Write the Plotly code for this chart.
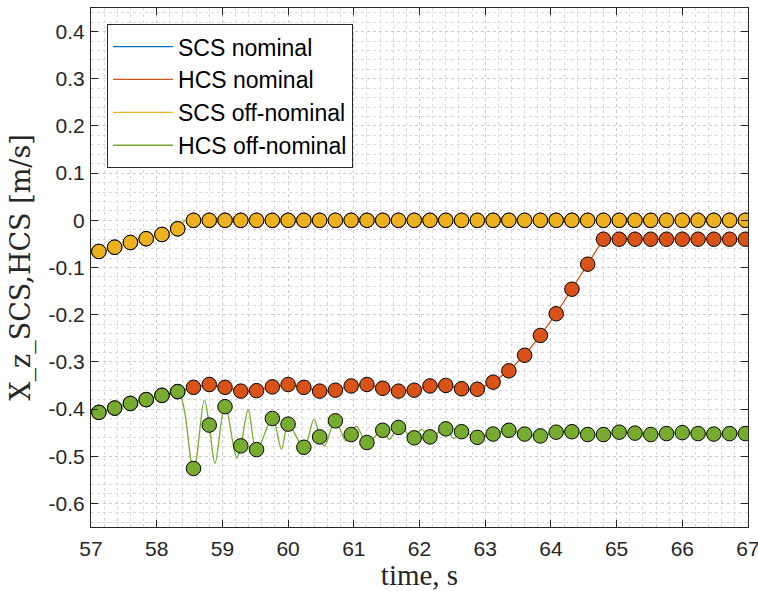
import plotly.graph_objects as go

# ---------------- data ----------------
t_markers = [57.12, 57.36, 57.60, 57.84, 58.08, 58.32, 58.56, 58.80, 59.04, 59.28,
             59.52, 59.76, 60.00, 60.24, 60.48, 60.72, 60.96, 61.20, 61.44, 61.68,
             61.92, 62.16, 62.40, 62.64, 62.88, 63.12, 63.36, 63.60, 63.84, 64.08,
             64.32, 64.56, 64.80, 65.04, 65.28, 65.52, 65.76, 66.00, 66.24, 66.48,
             66.72, 66.96]

scs_nominal = [-0.066, -0.057, -0.047, -0.039, -0.030, -0.018, 0, 0, 0, 0,
               0, 0, 0, 0, 0, 0, 0, 0, 0, 0,
               0, 0, 0, 0, 0, 0, 0, 0, 0, 0,
               0, 0, 0, 0, 0, 0, 0, 0, 0, 0,
               0, 0]
scs_offnominal = list(scs_nominal)

# line support for SCS curves (reaches zero slightly before the 7th marker)
scs_line_t = [57.12, 57.36, 57.60, 57.84, 58.08, 58.32, 58.43, 67.0]
scs_line_v = [-0.066, -0.057, -0.047, -0.039, -0.030, -0.018, 0.0, 0.0]

hcs_nominal = [-0.407, -0.398, -0.388, -0.380, -0.371, -0.363, -0.354, -0.348, -0.354, -0.362,
               -0.361, -0.353, -0.348, -0.354, -0.362, -0.360, -0.351, -0.348, -0.356, -0.362,
               -0.360, -0.351, -0.350, -0.357, -0.358, -0.343, -0.319, -0.286, -0.244, -0.198,
               -0.146, -0.093, -0.040, -0.040, -0.040, -0.040, -0.040, -0.040, -0.040, -0.040,
               -0.040, -0.040]

hcs_offnominal = [-0.407, -0.398, -0.388, -0.380, -0.371, -0.363, -0.526, -0.434, -0.395, -0.478,
                  -0.486, -0.420, -0.432, -0.481, -0.459, -0.425, -0.454, -0.471, -0.445, -0.439,
                  -0.461, -0.459, -0.442, -0.448, -0.460, -0.453, -0.445, -0.453, -0.457, -0.449,
                  -0.448, -0.454, -0.454, -0.449, -0.451, -0.454, -0.452, -0.450, -0.452, -0.453,
                  -0.452, -0.452]

# continuous HCS off-nominal trace (oscillation between markers)
hcs_off_line_t = [57.12, 57.36, 57.60, 57.84, 58.08, 58.32, 58.56, 58.725, 58.80, 58.887,
                  59.04, 59.218, 59.28, 59.394, 59.52, 59.76, 59.90, 60.00, 60.24, 60.394,
                  60.48, 60.551, 60.72, 60.88, 60.96, 61.04, 61.20, 61.44, 61.54, 61.68,
                  61.92, 62.03, 62.16, 62.40, 62.52, 62.64, 62.88, 63.12, 63.36, 63.60,
                  63.84, 64.08, 64.32, 64.56, 64.80, 65.04, 65.28, 65.52, 65.76, 66.00,
                  66.24, 66.48, 66.72, 66.96]
hcs_off_line_v = [-0.407, -0.398, -0.388, -0.380, -0.371, -0.363, -0.527, -0.381, -0.434, -0.515,
                  -0.392, -0.504, -0.478, -0.402, -0.488, -0.420, -0.485, -0.432, -0.481, -0.422,
                  -0.459, -0.478, -0.425, -0.468, -0.454, -0.436, -0.471, -0.445, -0.464, -0.439,
                  -0.461, -0.443, -0.459, -0.442, -0.462, -0.448, -0.460, -0.453, -0.445, -0.453,
                  -0.457, -0.449, -0.448, -0.454, -0.454, -0.449, -0.451, -0.454, -0.452, -0.450,
                  -0.452, -0.453, -0.452, -0.452]

x_tickvals = [57, 58, 59, 60, 61, 62, 63, 64, 65, 66, 67]
x_ticktext = ["57", "58", "59", "60", "61", "62", "63", "64", "65", "66", "67"]
y_tickvals = [-0.6, -0.5, -0.4, -0.3, -0.2, -0.1, 0, 0.1, 0.2, 0.3, 0.4]
y_ticktext = ["-0.6", "-0.5", "-0.4", "-0.3", "-0.2", "-0.1", "0", "0.1", "0.2", "0.3", "0.4"]

names = ["SCS nominal", "HCS nominal", "SCS off-nominal", "HCS off-nominal"]
colors = ["#0072BD", "#D95319", "#EDB120", "#77AC30"]

# ---------------- figure ----------------
fig = go.Figure()

series = [
    (names[0], colors[0], scs_line_t, scs_line_v, scs_nominal, "linear"),
    (names[1], colors[1], t_markers, hcs_nominal, hcs_nominal, "linear"),
    (names[2], colors[2], scs_line_t, scs_line_v, scs_offnominal, "linear"),
    (names[3], colors[3], hcs_off_line_t, hcs_off_line_v, hcs_offnominal, "spline"),
]

for name, col, lt, lv, mv, shape in series:
    fig.add_trace(go.Scatter(x=lt, y=lv, mode="lines", name=name,
                             line=dict(color=col, width=1.3, shape=shape),
                             showlegend=True, hoverinfo="skip"))
    fig.add_trace(go.Scatter(x=t_markers, y=mv, mode="markers", name=name,
                             marker=dict(color=col, size=14.5, line=dict(color="#000000", width=1)),
                             showlegend=False))

axis_common = dict(
    showline=True, linecolor="#262626", linewidth=1, mirror="ticks",
    ticks="inside", ticklen=7, tickcolor="#262626", tickwidth=1,
    showgrid=True, gridcolor="#cacaca", griddash="dot", gridwidth=1,
    zeroline=False, ticklabeloverflow="allow", automargin=False,
    tickfont=dict(family="Liberation Sans, Arial, sans-serif", size=21, color="#262626"),
)

fig.update_xaxes(range=[57, 67], tickvals=x_tickvals, ticktext=x_ticktext,
                 ticklabelstandoff=3,
                 minor=dict(dtick=0.2, showgrid=True, gridcolor="#dadada", griddash="dot", ticks=""),
                 title=dict(text="time, s", standoff=9,
                            font=dict(family="Liberation Serif, Times New Roman, serif", size=29, color="#262626")),
                 **axis_common)
fig.update_yaxes(range=[-0.65, 0.45], tickvals=y_tickvals, ticktext=y_ticktext,
                 ticklabelstandoff=1,
                 minor=dict(dtick=0.02, tick0=0, showgrid=True, gridcolor="#dadada", griddash="dot", ticks=""),
                 title=dict(text="X_z_SCS,HCS [m/s]", standoff=10,
                            font=dict(family="DejaVu Serif, serif", size=27, color="#262626")),
                 **axis_common)

fig.update_layout(
    width=758, height=591,
    margin=dict(l=91, r=10, t=8, b=64, autoexpand=False),
    paper_bgcolor="white", plot_bgcolor="white",
    legend=dict(x=0.0244, y=0.969, xanchor="left", yanchor="top",
                bgcolor="white", bordercolor="#262626", borderwidth=1,
                font=dict(family="Liberation Sans, Arial, sans-serif", size=23, color="#000000"),
                itemwidth=60, tracegroupgap=0),
    showlegend=True,
)

fig.write_html("out.html")
